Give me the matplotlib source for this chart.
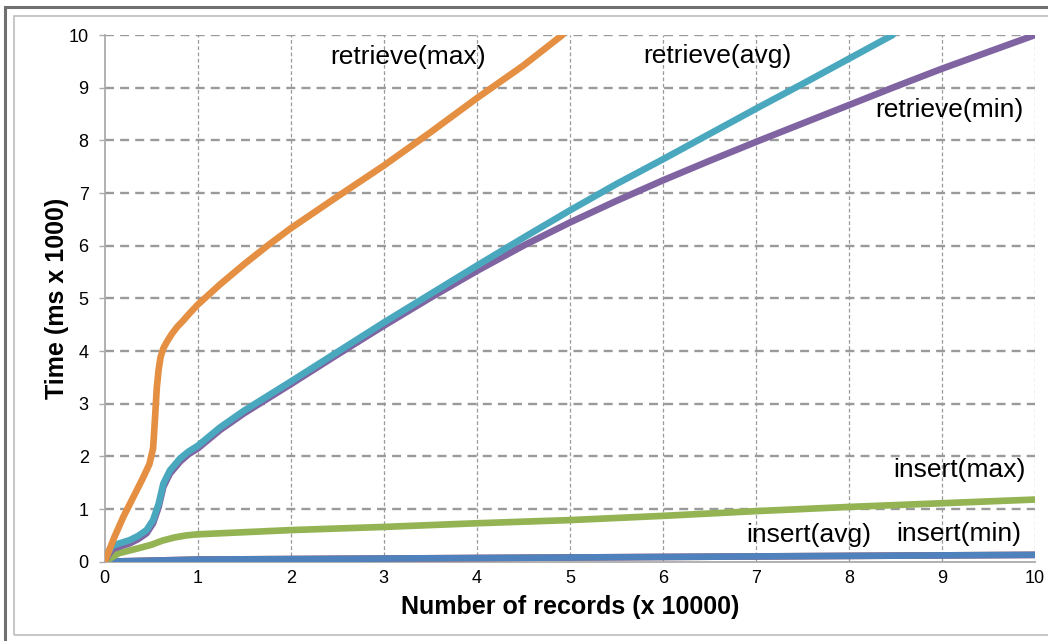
import matplotlib
matplotlib.use("Agg")
import matplotlib.pyplot as plt
from matplotlib.patches import Rectangle

plt.rcParams['font.family'] = ['Liberation Sans', 'DejaVu Sans']

# ---- data (x in units of 10000 records, y in ms x 1000) ----
ins_x = [0, 1, 2, 3, 4, 5, 6, 7, 8, 9, 10]
ins_min_y = [0, 0.04, 0.05, 0.06, 0.07, 0.08, 0.09, 0.10, 0.11, 0.12, 0.13]
ins_avg_y = [0, 0.04, 0.05, 0.06, 0.07, 0.08, 0.09, 0.10, 0.11, 0.12, 0.13]

ins_max_x = [0, 0.15, 0.35, 0.5, 0.62, 0.75, 0.88, 1, 1.5, 2, 3, 4, 5, 6, 7, 8, 9, 10]
ins_max_y = [0, 0.16, 0.25, 0.32, 0.40, 0.46, 0.50, 0.52, 0.56, 0.60, 0.66, 0.73, 0.79, 0.87, 0.96, 1.04, 1.11, 1.18]

ret_avg_x = [0, 0.05, 0.09, 0.18, 0.27, 0.36, 0.45, 0.52, 0.58, 0.63, 0.7, 0.81, 0.9, 1.0, 1.24, 1.5, 2, 2.5,
             3, 3.5, 4, 4.5, 5, 5.5, 6, 6.5, 7, 7.5, 8, 8.47]
ret_avg_y = [0, 0.22, 0.31, 0.36, 0.41, 0.49, 0.60, 0.79, 1.10, 1.48, 1.73, 1.96, 2.09, 2.20, 2.55, 2.87, 3.42, 3.98,
             4.54, 5.08, 5.62, 6.15, 6.67, 7.17, 7.64, 8.12, 8.60, 9.07, 9.55, 10.0]

ret_min_x = [0, 0.05, 0.09, 0.18, 0.27, 0.36, 0.45, 0.52, 0.58, 0.63, 0.7, 0.81, 0.9, 1.0, 1.24, 1.5, 2, 2.5,
             3, 3.5, 4, 4.5, 5, 5.5, 6, 6.5, 7, 7.5, 8, 8.5, 9, 9.5, 10]
ret_min_y = [0, 0.16, 0.24, 0.30, 0.35, 0.43, 0.54, 0.73, 1.04, 1.42, 1.67, 1.90, 2.04, 2.15, 2.50, 2.82, 3.37, 3.93,
             4.48, 5.01, 5.52, 6.00, 6.44, 6.85, 7.24, 7.61, 7.97, 8.32, 8.67, 9.02, 9.36, 9.68, 10.0]

ret_max_x = [0, 0.1, 0.2, 0.3, 0.4, 0.48, 0.52, 0.54, 0.56, 0.58, 0.6, 0.63, 0.67, 0.72, 0.78, 0.84, 0.92, 1.0,
             1.25, 1.5, 1.75, 2.0, 2.5, 3.0, 3.5, 4.0, 4.5, 4.92]
ret_max_y = [0, 0.45, 0.85, 1.2, 1.55, 1.85, 2.15, 2.7, 3.3, 3.65, 3.88, 4.05, 4.18, 4.32, 4.46, 4.57, 4.73, 4.88,
             5.28, 5.65, 6.00, 6.33, 6.93, 7.52, 8.15, 8.80, 9.42, 10.0]

labels = ["insert(min)", "insert(avg)", "insert(max)", "retrieve(min)", "retrieve(avg)", "retrieve(max)"]
label_pos = [(9.18, 0.53), (7.57, 0.51), (9.19, 1.74), (9.08, 8.57), (6.59, 9.61), (3.26, 9.58)]

x_ticks = list(range(0, 11))
y_ticks = list(range(0, 11))

c_blue = "#4F81BD"
c_red = "#C0504D"
c_green = "#94B454"
c_purple = "#8064A2"
c_teal = "#4AA8BE"
c_orange = "#E58F43"

W, H = 1048, 641
fig = plt.figure(figsize=(W / 100, H / 100), dpi=100)

# frame lines (only the left/top edges of the outer frame are within the picture)
fig.patches.append(Rectangle((5 / W, -0.2), 1.2, 1.2 - 7 / H,
                             transform=fig.transFigure, fill=False,
                             edgecolor="#707070", linewidth=2.2))
fig.patches.append(Rectangle((14 / W, 1 - 635 / H), 1.2, (635 - 16) / H,
                             transform=fig.transFigure, fill=False,
                             edgecolor="#BDBDBD", linewidth=1.2))

ax = fig.add_axes([104.7 / W, 1 - 561.7 / H, (1035 - 104.7) / W, (561.7 - 35) / H])
ax.set_facecolor("none")

lw = 4.8
common = dict(linewidth=lw, solid_capstyle="round", solid_joinstyle="round")
ax.plot(ins_x, ins_avg_y, color=c_red, zorder=3, **common)
ax.plot(ins_x, ins_min_y, color=c_blue, zorder=4, **common)
ax.plot(ins_max_x, ins_max_y, color=c_green, zorder=4, **common)
ax.plot(ret_min_x, ret_min_y, color=c_purple, zorder=4, **common)
ax.plot(ret_avg_x, ret_avg_y, color=c_teal, zorder=5, **common)
ax.plot(ret_max_x, ret_max_y, color=c_orange, zorder=6, **common)

for lab, (lx, ly) in zip(labels, label_pos):
    ax.text(lx, ly, lab, ha="center", va="center", fontsize=19, color="black", zorder=7)

ax.set_xlim(0, 10)
ax.set_ylim(0, 10)
ax.set_xticks(x_ticks)
ax.set_yticks(y_ticks)
ax.set_xticklabels([str(v) for v in x_ticks])
ax.set_yticklabels([str(v) for v in y_ticks])

# gridlines
for yv in y_ticks[1:]:
    ax.axhline(yv, color="#9A9A9A", linewidth=1.7, linestyle=(0, (3.8, 2.6)), zorder=1)
for xv in x_ticks[1:]:
    ax.axvline(xv, color="#9A9A9A", linewidth=0.9, linestyle=(0, (3.0, 2.0)), zorder=1)

for s in ["top", "right"]:
    ax.spines[s].set_visible(False)
for s in ["left", "bottom"]:
    ax.spines[s].set_color("#ABABAB")
    ax.spines[s].set_linewidth(1.3)

ax.tick_params(axis="y", direction="out", length=4.5, width=1.0, color="#ABABAB",
               labelsize=13, pad=7)
ax.tick_params(axis="x", length=0, labelsize=13, pad=6)

ax.set_xlabel("Number of records (x 10000)", fontsize=18, fontweight="bold", labelpad=6)
ax.set_ylabel("Time (ms x 1000)", fontsize=18, fontweight="bold", labelpad=0)

fig.savefig("out.png", dpi=100)
